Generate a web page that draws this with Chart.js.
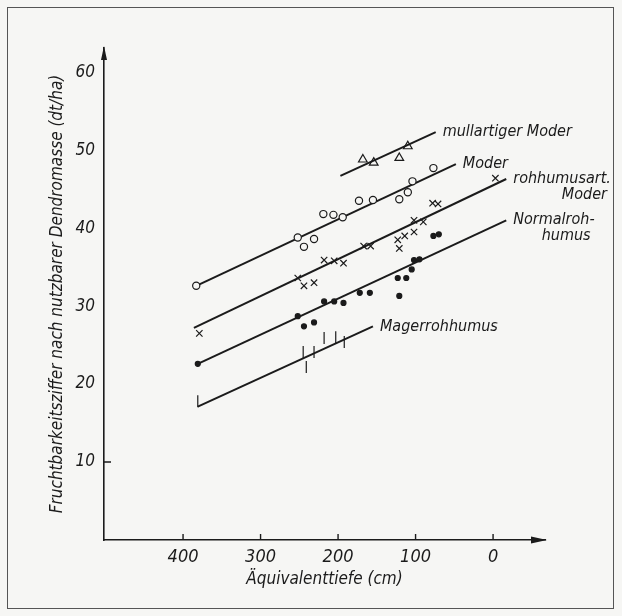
<!DOCTYPE html>
<html>
<head>
<meta charset="utf-8">
<script src="https://cdn.jsdelivr.net/npm/chart.js@4.4.1/dist/chart.umd.min.js"></script>
<style>
  html, body { margin: 0; background: #f6f6f4; }
  #wrap { position: relative; width: 622px; height: 616px; }
  #frame { position: absolute; left: 7px; top: 7px; right: 8px; bottom: 7px; border: 1px solid #555; }
  canvas { position: absolute; left: 0; top: 0; }
</style>
</head>
<body>
<div id="wrap">
  <div id="frame"></div>
  <canvas id="humusChart" width="622" height="616"></canvas>
</div>
<script>
/* eslint-disable */
const depthTicks = [400, 300, 200, 100, 0];
const yieldTicks = [10, 20, 30, 40, 50, 60];

// measured plots: Äquivalenttiefe (cm) and Fruchtbarkeitsziffer (dt/ha)
const mullDepth = [168, 154, 121, 110];
const mullYield = [48.8, 48.4, 49.0, 50.5];

const moderDepth = [383, 252, 244, 231, 219, 206, 194, 173, 155, 121, 110, 104, 77];
const moderYield = [32.6, 38.8, 37.6, 38.6, 41.8, 41.7, 41.4, 43.5, 43.6, 43.7, 44.6, 46.0, 47.7];

const rohModerDepth = [379, 252, 244, 231, 218, 205, 193, 167, 158, 123, 121, 114, 102, 102, 90, 78, 71, -3];
const rohModerYield = [26.5, 33.6, 32.6, 33.0, 35.9, 35.8, 35.5, 37.7, 37.7, 38.5, 37.4, 39.0, 39.5, 41.0, 40.8, 43.2, 43.1, 46.4];

const normalDepth = [381, 252, 244, 231, 218, 205, 193, 172, 159, 123, 112, 121, 105, 102, 95, 77, 70];
const normalYield = [22.6, 28.7, 27.4, 27.9, 30.6, 30.6, 30.4, 31.7, 31.7, 33.6, 33.6, 31.3, 34.7, 35.9, 36.0, 39.0, 39.2];

const magerDepth = [381, 245, 241, 231, 218, 203, 192];
const magerYield = [17.8, 24.1, 22.2, 24.1, 25.9, 26.0, 25.4];

// regression lines: [depth start, depth end], [yield start, yield end]
const mullLineX = [197, 74];
const mullLineY = [46.7, 52.3];
const moderLineX = [383, 48];
const moderLineY = [32.6, 48.2];
const rohModerLineX = [386, -17];
const rohModerLineY = [27.2, 46.3];
const normalLineX = [381, -17];
const normalLineY = [22.6, 41.0];
const magerLineX = [381, 155];
const magerLineY = [17.1, 27.4];

const formLabels = [
  ['mullartiger Moder'],
  ['Moder'],
  ['rohhumusart.', 'Moder'],
  ['Normalroh-', 'humus'],
  ['Magerrohhumus']
];

const ink = '#1b1b1b';
const paper = '#f6f6f4';
const letterFont = '"DejaVu Sans Condensed", "DejaVu Sans", sans-serif';

const pts = (xs, ys) => xs.map((x, i) => ({ x: x, y: ys[i] }));

function markSet(xs, ys, style, radius, fill) {
  return {
    data: pts(xs, ys),
    showLine: false,
    pointStyle: style,
    pointRadius: radius,
    pointRotation: style === 'line' ? 90 : 0,
    pointBorderWidth: 1.2,
    pointBorderColor: ink,
    pointBackgroundColor: fill,
    order: 1
  };
}

function lineSet(xs, ys, label) {
  return {
    data: pts(xs, ys),
    showLine: true,
    borderColor: ink,
    borderWidth: 2,
    pointRadius: 0,
    formLabel: label,
    order: 2
  };
}

// short axis ticks, arrow heads and the labels at the line ends
const drawingExtras = {
  id: 'drawingExtras',
  afterDraw(chart) {
    const { ctx, chartArea: a, scales: { x, y } } = chart;
    ctx.save();
    ctx.strokeStyle = ink;
    ctx.fillStyle = ink;
    ctx.lineWidth = 1.4;
    ctx.beginPath();
    depthTicks.forEach(v => {
      const px = x.getPixelForValue(v);
      ctx.moveTo(px, a.bottom);
      ctx.lineTo(px, a.bottom - 6);
    });
    const py = y.getPixelForValue(yieldTicks[0]);
    ctx.moveTo(a.left, py);
    ctx.lineTo(a.left + 7, py);
    ctx.stroke();

    ctx.beginPath();
    ctx.moveTo(a.right + 2, a.bottom);
    ctx.lineTo(a.right - 14, a.bottom - 3.5);
    ctx.lineTo(a.right - 14, a.bottom + 3.5);
    ctx.closePath();
    ctx.fill();
    ctx.beginPath();
    ctx.moveTo(a.left, a.top - 2);
    ctx.lineTo(a.left - 3, a.top + 12);
    ctx.lineTo(a.left + 3, a.top + 12);
    ctx.closePath();
    ctx.fill();

    ctx.font = 'italic 16px ' + letterFont;
    ctx.textBaseline = 'middle';
    chart.data.datasets.forEach((ds, i) => {
      if (!ds.formLabel) return;
      const pts = chart.getDatasetMeta(i).data;
      const end = pts[pts.length - 1];
      const lines = ds.formLabel;
      ctx.textAlign = 'left';
      ctx.fillText(lines[0], end.x + 7, end.y);
      if (lines[1]) {
        const w = ctx.measureText(lines[0]).width;
        ctx.textAlign = 'right';
        ctx.fillText(lines[1], end.x + 7 + w - 4, end.y + 16);
      }
    });
    ctx.restore();
  }
};

const ctx = document.getElementById('humusChart').getContext('2d');

const humusChart = new Chart(ctx, {
  type: 'scatter',
  data: {
    datasets: [
      markSet(mullDepth, mullYield, 'triangle', 5, 'rgba(0,0,0,0)'),
      markSet(moderDepth, moderYield, 'circle', 3.6, paper),
      markSet(rohModerDepth, rohModerYield, 'crossRot', 4.5, ink),
      markSet(normalDepth, normalYield, 'circle', 2.5, ink),
      markSet(magerDepth, magerYield, 'line', 6, ink),
      lineSet(mullLineX, mullLineY, formLabels[0]),
      lineSet(moderLineX, moderLineY, formLabels[1]),
      lineSet(rohModerLineX, rohModerLineY, formLabels[2]),
      lineSet(normalLineX, normalLineY, formLabels[3]),
      lineSet(magerLineX, magerLineY, formLabels[4])
    ]
  },
  options: {
    responsive: false,
    animation: false,
    layout: { padding: { left: 47, right: 77, top: 48, bottom: 26 } },
    plugins: { legend: { display: false }, tooltip: { enabled: false } },
    scales: {
      x: {
        type: 'linear',
        reverse: true,
        min: -67,
        max: 502,
        afterBuildTicks: s => { s.ticks = depthTicks.map(v => ({ value: v })); },
        afterFit: s => { s.height = 50; },
        grid: { display: false, drawTicks: false },
        border: { display: true, color: ink, width: 1.6 },
        ticks: {
          padding: 7,
          color: ink,
          font: { family: letterFont, size: 18, style: 'italic' }
        },
        title: {
          display: true,
          text: 'Äquivalenttiefe (cm)',
          color: ink,
          padding: 0,
          font: { family: letterFont, size: 17, style: 'italic' }
        }
      },
      y: {
        type: 'linear',
        min: 0,
        max: 63.1,
        afterBuildTicks: s => { s.ticks = yieldTicks.map(v => ({ value: v })); },
        afterFit: s => { s.width = 57; },
        grid: { display: false, drawTicks: false },
        border: { display: true, color: ink, width: 1.6 },
        ticks: {
          padding: 9,
          color: ink,
          font: { family: letterFont, size: 17, style: 'italic' }
        },
        title: {
          display: true,
          text: 'Fruchtbarkeitsziffer nach nutzbarer Dendromasse (dt/ha)',
          color: ink,
          padding: 0,
          font: { family: letterFont, size: 17, style: 'italic' }
        }
      }
    }
  },
  plugins: [drawingExtras]
});
</script>
</body>
</html>
